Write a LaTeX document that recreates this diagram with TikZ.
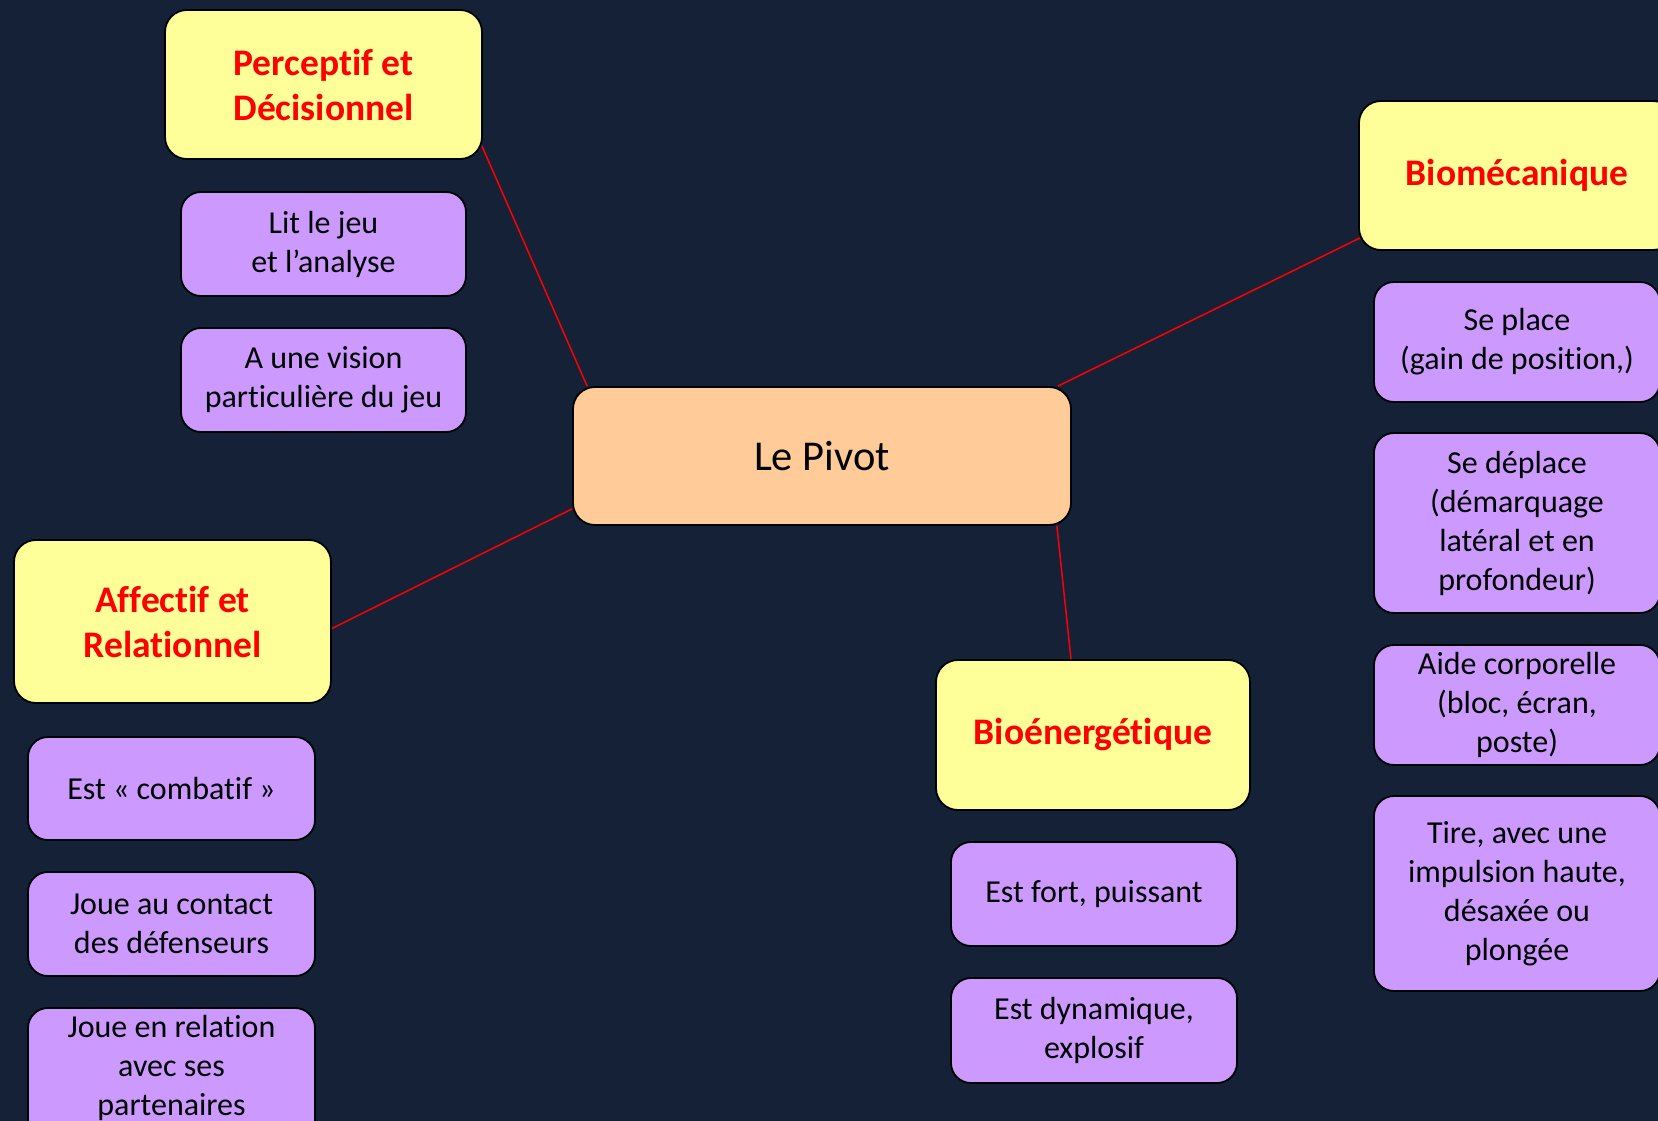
\documentclass[tikz,border=0pt]{standalone}
\usepackage{fontspec}
\setmainfont[Ligatures=NoCommon]{Carlito}
\usetikzlibrary{calc}
\pgfdeclarelayer{bg}
\pgfsetlayers{bg,main}
\definecolor{navy}{HTML}{152136}
\definecolor{pivotfill}{HTML}{FFCC99}
\definecolor{catfill}{HTML}{FFFF99}
\definecolor{itemfill}{HTML}{CC99FF}
\definecolor{catred}{HTML}{FF0000}
\begin{document}
\begin{tikzpicture}[x=1pt,y=-1pt,
  box/.style={draw=black, line width=1.8pt, rounded corners=22pt, inner sep=0pt, align=center, text=black},
  core/.style={box, fill=pivotfill, font=\fontsize{42.5}{50}\selectfont},
  cat/.style={box, fill=catfill, text=catred, font=\fontsize{37.5}{45}\selectfont\bfseries},
  item/.style={box, fill=itemfill, rounded corners=20pt, font=\fontsize{32}{39}\selectfont},
  itemtext/.style={inner sep=0pt, align=center, text=black, font=\fontsize{32}{39}\selectfont},
  link/.style={draw=red, line width=1.5pt}]
\useasboundingbox (0,0) rectangle (1658,1121);
\begin{pgfonlayer}{bg}
\fill[navy] (0,0) rectangle (1658,1121);
\end{pgfonlayer}

% centre
\node[core, minimum width=498pt, minimum height=138pt] (pivot) at (822,456) {Le Pivot};

% Perceptif
\node[cat, minimum width=317pt, minimum height=149pt] (perc) at (323.5,84.5) {Perceptif et\\Décisionnel};
\node[item, minimum width=285pt, minimum height=104pt] (lit) at (323.5,244) {Lit le jeu\\et l’analyse};
\node[item, minimum width=285pt, minimum height=104pt] (vis) at (323.5,380) {A une vision\\particulière du jeu};

% Biomecanique
\node[cat, minimum width=316pt, minimum height=149pt] (biom) at (1517,175.5) {Biomécanique};
\node[item, minimum width=286pt, minimum height=120pt] (place) at (1517,342) {Se place\\(gain de position,)};
\node[item, minimum width=286pt, minimum height=180pt] (depl) at (1517,523) {Se déplace\\(démarquage\\latéral et en\\profondeur)};
\node[item, minimum width=286pt, minimum height=120pt] (aide) at (1517,705) {Aide corporelle\\(bloc, écran,\\poste)};
\node[item, minimum width=286pt, minimum height=195pt] (tire) at (1517,893.5) {Tire, avec une\\impulsion haute,\\désaxée ou\\plongée};

% Affectif
\node[cat, minimum width=317pt, minimum height=163pt] (aff) at (172.5,621.5) {Affectif et\\Relationnel};
\node[item, minimum width=287pt, minimum height=103pt] (comb) at (171.5,788.5) {Est « combatif »};
\node[item, minimum width=287pt, minimum height=104pt] (cont) at (171.5,924) {Joue au contact\\des défenseurs};
\node[item, minimum width=287pt, minimum height=152pt] (rel) at (171.5,1084) {};
\node[itemtext] (reltxt) at (171.5,1068) {Joue en relation\\avec ses\\partenaires};

% Bioenergetique
\node[cat, minimum width=314pt, minimum height=150pt] (bioen) at (1093,735) {Bioénergétique};
\node[item, minimum width=286pt, minimum height=104pt] (fort) at (1094,894) {Est fort, puissant};
\node[item, minimum width=286pt, minimum height=105pt] (dyn) at (1094,1030.5) {Est dynamique,\\explosif};

% connectors
\begin{pgfonlayer}{bg}
\draw[link] ($(perc.south east)+(-1,-14)$) -- ($(pivot.north west)+(15,0)$);
\draw[link] ($(pivot.north east)+(-14,0)$) -- ($(biom.south west)+(2,-13)$);
\draw[link] ($(pivot.south west)+(0,-17)$) -- ($(aff.east)+(0,7)$);
\draw[link] ($(pivot.south east)+(-15,0)$) -- ($(bioen.north)+(-22,0)$);
\end{pgfonlayer}
\end{tikzpicture}
\end{document}
